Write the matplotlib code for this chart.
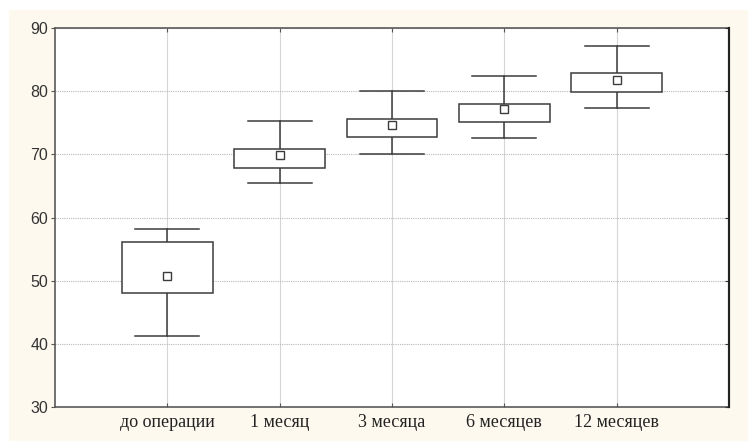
import matplotlib
matplotlib.use("Agg")
import matplotlib.pyplot as plt
from matplotlib.patches import Rectangle

categories = ["до операции", "1 месяц", "3 месяца", "6 месяцев", "12 месяцев"]
means = [50.8, 69.9, 74.65, 77.1, 81.8]
box_low = [48.1, 67.9, 72.75, 75.1, 79.9]
box_high = [56.1, 70.8, 75.6, 78.0, 82.8]
whisk_low = [41.2, 65.4, 70.1, 72.6, 77.4]
whisk_high = [58.2, 75.2, 80.0, 82.4, 87.1]
y_ticks = [30, 40, 50, 60, 70, 80, 90]

W, H = 748, 441
fig = plt.figure(figsize=(W / 100, H / 100), dpi=100, facecolor="white")
fig.patches.append(Rectangle((9 / W, 0), 1 - 9 / W, 1 - 10 / H,
                             transform=fig.transFigure, facecolor="#fdf9ee",
                             edgecolor="none", zorder=-10))

ax = fig.add_axes([55 / W, 1 - 407 / H, (729 - 55) / W, (407 - 28) / H])
ax.set_facecolor("white")

line_col = "#3c3c3c"
box_w = 0.81
cap_w = 0.57
for i in range(len(categories)):
    # whiskers
    ax.plot([i, i], [box_high[i], whisk_high[i]], color=line_col, lw=1.1, zorder=3)
    ax.plot([i, i], [whisk_low[i], box_low[i]], color=line_col, lw=1.1, zorder=3)
    ax.plot([i - cap_w / 2, i + cap_w / 2], [whisk_high[i]] * 2, color=line_col, lw=1.1, zorder=3)
    ax.plot([i - cap_w / 2, i + cap_w / 2], [whisk_low[i]] * 2, color=line_col, lw=1.1, zorder=3)
    # box
    ax.add_patch(Rectangle((i - box_w / 2, box_low[i]), box_w, box_high[i] - box_low[i],
                           facecolor="white", edgecolor=line_col, lw=1.1, zorder=4))

ax.plot(range(len(categories)), means, linestyle="none", marker="s", markersize=6,
        markerfacecolor="white", markeredgecolor=line_col, markeredgewidth=1.0, zorder=5)

ax.set_xlim(-1, 5)
ax.set_ylim(30, 90)
ax.set_xticks(range(len(categories)))
ax.set_xticklabels(categories, family="Liberation Serif", fontsize=13, color="#222222")
ax.set_yticks(y_ticks)
ax.set_yticklabels([str(v) for v in y_ticks], family="Liberation Sans", fontsize=11.5, color="#333333")

ax.grid(axis="y", color="#b8b8b8", linestyle=(0, (1, 1)), lw=0.8, zorder=0)
ax.grid(axis="x", color="#d6d6d6", linestyle="-", lw=0.8, zorder=0)

ax.tick_params(axis="x", direction="in", length=3, top=True, bottom=True,
               color="#555555", pad=5)
ax.tick_params(axis="y", direction="out", length=3, left=True, right=False,
               color="#555555", pad=2)
for side in ["left", "top", "bottom"]:
    ax.spines[side].set_color("#5a5a5a")
    ax.spines[side].set_linewidth(1.2)
ax.spines["right"].set_color("#222222")
ax.spines["right"].set_linewidth(1.5)

# inward ticks on the right-hand frame
ax_r = ax.twinx()
ax_r.set_ylim(ax.get_ylim())
ax_r.set_yticks(y_ticks)
ax_r.set_yticklabels([])
ax_r.tick_params(axis="y", direction="in", length=3, color="#333333")
for side in ["left", "top", "bottom"]:
    ax_r.spines[side].set_visible(False)
ax_r.spines["right"].set_color("#222222")
ax_r.spines["right"].set_linewidth(1.5)

fig.savefig("out.png", dpi=100, facecolor=fig.get_facecolor())
